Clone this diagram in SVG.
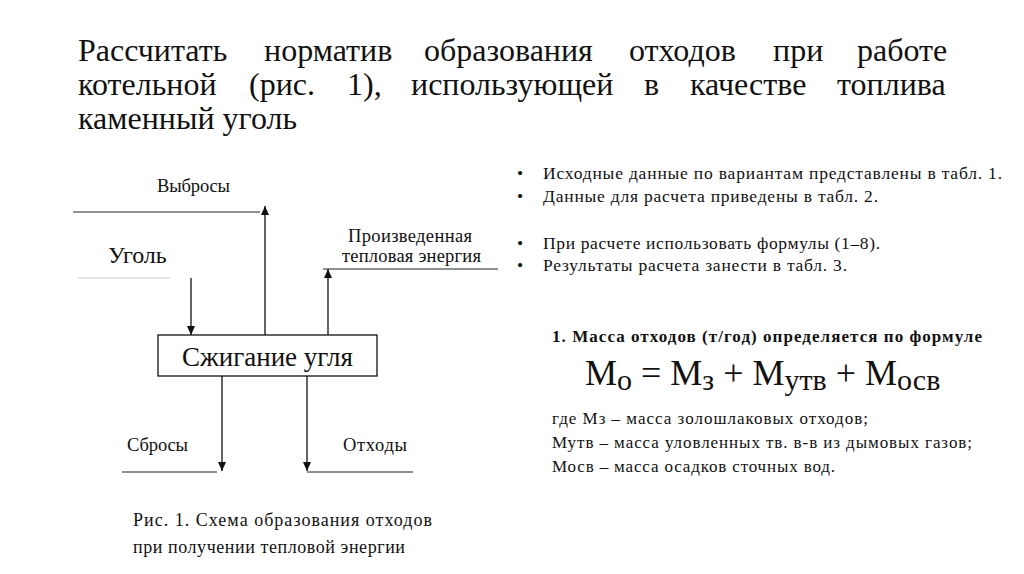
<svg xmlns="http://www.w3.org/2000/svg" width="1024" height="574" viewBox="0 0 1024 574">
<defs>
<style>
.s{font-family:"Liberation Serif","Times New Roman",serif;fill:#111}
.b{font-weight:bold}
.ln{stroke:#111;stroke-width:1.3;fill:none}
.ul{stroke:#222;stroke-width:1.2;fill:none}
</style>
<marker id="ah" markerUnits="userSpaceOnUse" markerWidth="9" markerHeight="8" refX="9" refY="4" orient="auto">
<path d="M0,0 L9,4 L0,8 z" fill="#111"/>
</marker>
</defs>
<rect width="1024" height="574" fill="#fff"/>

<g id="title" class="s" font-size="32">
<text y="61"><tspan x="78">Рассчитать</tspan><tspan x="264">норматив</tspan><tspan x="424">образования</tspan><tspan x="629">отходов</tspan><tspan x="773">при</tspan><tspan x="857">работе</tspan></text>
<text y="95"><tspan x="78">котельной</tspan><tspan x="249">(рис.</tspan><tspan x="347">1),</tspan><tspan x="411">использующей</tspan><tspan x="644">в</tspan><tspan x="690">качестве</tspan><tspan x="837">топлива</tspan></text>
<text x="78" y="129">каменный уголь</text>
</g>

<g id="connectors">
<line class="ln" x1="191" y1="278" x2="191" y2="335" marker-end="url(#ah)"/>
<line class="ln" x1="265" y1="335" x2="265" y2="206" marker-end="url(#ah)"/>
<line class="ln" x1="328" y1="335" x2="328" y2="269" marker-end="url(#ah)"/>
<line class="ln" x1="222" y1="376" x2="222" y2="471" marker-end="url(#ah)"/>
<line class="ln" x1="307" y1="376" x2="307" y2="471" marker-end="url(#ah)"/>
</g>

<g id="node-combustion">
<rect x="158" y="335" width="219" height="41" fill="#fff" stroke="#111" stroke-width="1.3"/>
<text class="s" x="267.5" y="366" font-size="27" text-anchor="middle">Сжигание угля</text>
</g>

<g id="node-coal">
<text class="s" x="108" y="263" font-size="24">Уголь</text>
<line x1="78" y1="278" x2="170" y2="278" stroke="#ccc" stroke-width="1.2"/>
</g>

<g id="node-emissions">
<text class="s" x="157" y="192" font-size="18.5" textLength="73">Выбросы</text>
<line class="ul" x1="73" y1="212" x2="260" y2="212"/>
</g>

<g id="node-heat">
<text class="s" x="348" y="242" font-size="18.5" textLength="124">Произведенная</text>
<text class="s" x="342" y="262" font-size="18.5" textLength="139">тепловая энергия</text>
<line class="ul" x1="323" y1="269" x2="498" y2="269"/>
</g>

<g id="node-discharge">
<text class="s" x="127" y="451" font-size="18.5" textLength="61">Сбросы</text>
<line class="ul" x1="122" y1="472" x2="217" y2="472"/>
</g>

<g id="node-waste">
<text class="s" x="343" y="451" font-size="18.5" textLength="64">Отходы</text>
<line class="ul" x1="307" y1="472" x2="413" y2="472"/>
</g>

<g id="caption" class="s" font-size="18">
<text x="133" y="526" textLength="299">Рис. 1. Схема образования отходов</text>
<text x="133" y="553" textLength="272">при получении тепловой энергии</text>
</g>

<g id="bullets" class="s" font-size="17.5">
<text x="517" y="179">•</text>
<text x="543" y="179" textLength="459">Исходные данные по вариантам представлены в табл. 1.</text>
<text x="517" y="202">•</text>
<text x="543" y="202" textLength="335">Данные для расчета приведены в табл. 2.</text>
<text x="517" y="249">•</text>
<text x="543" y="249" textLength="337">При расчете использовать формулы (1–8).</text>
<text x="517" y="271">•</text>
<text x="543" y="271" textLength="304">Результаты расчета занести в табл. 3.</text>
</g>

<g id="formula" class="s">
<text class="b" x="552" y="342" font-size="17" textLength="430">1. Масса отходов (т/год) определяется по формуле</text>
<text x="585" y="385" font-size="36">М<tspan font-size="30" dy="5">о</tspan><tspan dy="-5"> = М</tspan><tspan font-size="30" dy="5">з</tspan><tspan dy="-5"> + М</tspan><tspan font-size="30" dy="5">утв</tspan><tspan dy="-5"> + М</tspan><tspan font-size="30" dy="5">осв</tspan></text>
<text x="552" y="424" font-size="17" textLength="316">где Мз – масса золошлаковых отходов;</text>
<text x="552" y="448" font-size="17" textLength="420">Мутв – масса уловленных тв. в-в из дымовых газов;</text>
<text x="552" y="472" font-size="17" textLength="283">Мосв – масса осадков сточных вод.</text>
</g>
</svg>
